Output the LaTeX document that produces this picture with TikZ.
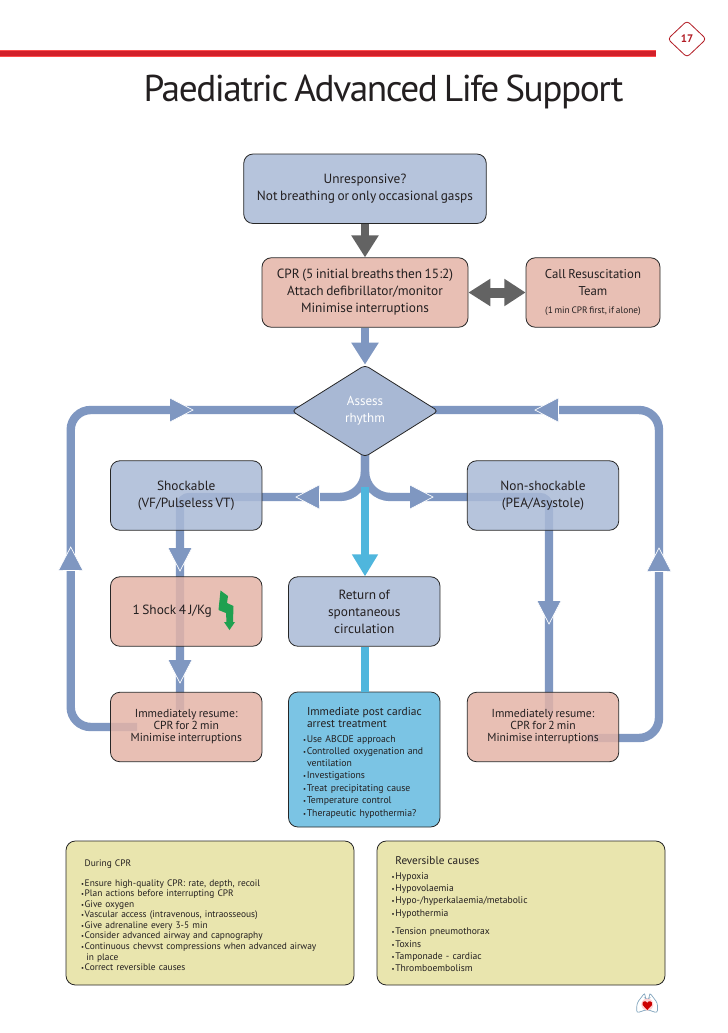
\documentclass[tikz,border=0pt]{standalone}
\usepackage{fontspec}
\setmainfont{PT Sans}[WordSpace=0.7]
\usetikzlibrary{arrows.meta,shapes.geometric,backgrounds,calc}
\definecolor{bluefill}{HTML}{AABAD7}
\definecolor{pinkfill}{HTML}{E4B4A8}
\definecolor{yellowfill}{HTML}{E9E5AE}
\definecolor{postfill}{HTML}{7BC4E4}
\definecolor{diamondfill}{HTML}{A8B8D4}
\definecolor{flowcol}{HTML}{7F97C1}
\definecolor{cyancol}{HTML}{4FB6DD}
\definecolor{greycol}{HTML}{636363}
\definecolor{redcol}{HTML}{D2202A}
\definecolor{inkcol}{HTML}{231F20}
\definecolor{boltcol}{HTML}{1FA050}
\definecolor{lungcol}{HTML}{7FA3BC}
\newcommand{\blt}{\makebox[2.8pt][l]{\fontsize{5pt}{5pt}\selectfont •}}
\newcommand{\fsz}[2]{\fontsize{#1pt}{#2pt}\selectfont}
\tikzset{
  x=0.75pt,y=-0.75pt,
  boxbase/.style={draw=black!85,line width=.6pt,rounded corners=7pt,inner sep=0pt,align=center,text=inkcol,
    fill opacity=.85,text opacity=1,minimum width=113.6pt,minimum height=52.1pt,font=\fsz{10}{12.7}},
  bluebox/.style={boxbase,fill=bluefill},
  pinkbox/.style={boxbase,fill=pinkfill},
  flowline/.style={draw=flowcol,line width=6.3pt},
  flowarrow/.style={draw=flowcol,line width=6pt,-{Triangle[length=16.5pt,width=19.5pt]}},
  cyanline/.style={draw=cyancol,line width=6pt},
  cyanarrow/.style={draw=cyancol,line width=6pt,-{Triangle[length=16.5pt,width=18.5pt]}},
  greyarrow/.style={draw=greycol,line width=6pt,-{Triangle[length=16.5pt,width=19.5pt]}},
  greydouble/.style={draw=greycol,line width=7.5pt,{Triangle[length=16.5pt,width=19.5pt]}-{Triangle[length=16pt,width=19.5pt]}},
  tri/.pic={\fill[flowcol] (-23,-12)--(0,0)--(-23,12)--cycle;
            \draw[white,line width=.5pt] (-23,-12)--(0,0)--(-23,12);},
  trigap/.pic={\fill[flowcol] (-23,-12)--(0,0)--(-23,12)--cycle;
            \draw[white,line width=.5pt] (-23,-12)--(0,0)--(-23,12);
            \draw[white,line width=1.2pt] (-23.6,-8)--(-23.6,8);},
}
\begin{document}
\begin{tikzpicture}
\useasboundingbox (0,0) rectangle (728,1033);
% header
\draw[red!70!white,line width=5pt] (0,53.5) -- (656,53.5);
\draw[redcol,line width=4pt] (0,53.5) -- (656,53.5);
\node[diamond,draw=redcol!85!black,line width=.6pt,rounded corners=2.5pt,minimum width=29pt,minimum height=27.5pt,inner sep=0pt,
  text=redcol!85!black,font=\fsz{8.2}{10}\bfseries] (page) at (687,39) {17};
\node[text=inkcol,font=\fsz{28}{30}\addfontfeature{LetterSpace=-3.9},inner sep=0pt] (title) at (383.5,92) {Paediatric Advanced Life Support};
% boxes
\node[bluebox,minimum width=181.9pt] (unresp) at (365,188.75) {Unresponsive?\\Not breathing or only occasional gasps};
\node[pinkbox,minimum width=154.5pt] (cpr) at (365,292.5) {CPR (5 initial breaths then 15:2)\\Attach defibrillator/monitor\\Minimise interruptions};
\node[pinkbox,minimum width=100.5pt,font=\fsz{9.6}{12.5}] (call) at (593,292.5) {Call Resuscitation\\Team\\[1pt]{\fsz{7}{8}(1 min CPR first, if alone)}};
\node[diamond,fill=diamondfill,draw=black!85,line width=.6pt,rounded corners=3pt,minimum width=110pt,minimum height=69pt,inner sep=0pt,
  align=center,text=white,font=\fsz{9.8}{12.6}] (assess) at (365,411) {Assess\\rhythm};
\node[bluebox] (shock) at (186.25,495.5) {Shockable\\(VF/Pulseless VT)};
\node[pinkbox] (oneshock) at (186.25,611.5) {1 Shock 4 J/Kg\hspace*{21pt}};
\node[pinkbox,font=\fsz{8.7}{9}] (resumel) at (186.25,727) {Immediately resume:\\CPR for 2 min\\Minimise interruptions};
\node[bluebox] (rosc) at (364.25,611.5) {Return of\\spontaneous\\circulation};
\node[boxbase,fill=postfill,fill opacity=1,minimum height=101.25pt,align=left,text width=91.8pt,font=\fsz{7.3}{9}] (post) at (364.25,759.5)
  {\rule{0pt}{11pt}\hspace*{3pt}{\fsz{8.6}{9}Immediate post cardiac\\\hspace*{3pt}arrest treatment}\\[2pt]
   \blt Use ABCDE approach\\[.6pt]
   \blt Controlled oxygenation and\\
   \hspace*{3pt}ventilation\\
   \blt Investigations\\[.6pt]
   \blt Treat precipitating cause\\
   \blt Temperature control\\[.5pt]
   \blt Therapeutic hypothermia?};
\node[bluebox] (nonshock) at (543,495.5) {Non-shockable\\(PEA/Asystole)};
\node[pinkbox,font=\fsz{8.7}{9}] (resumer) at (543,727) {Immediately resume:\\CPR for 2 min\\Minimise interruptions};
\node[boxbase,fill=yellowfill,fill opacity=1,minimum width=216pt,minimum height=108pt,align=left,text width=193.5pt,font=\fsz{7.05}{7.9}] (during) at (210,913)
  {\rule{0pt}{8.3pt}\hspace*{2.8pt}During CPR\\[7pt]
   \blt Ensure high-quality CPR: rate, depth, recoil\\
   \blt Plan actions before interrupting CPR\\
   \blt Give oxygen\\
   \blt Vascular access (intravenous, intraosseous)\\
   \blt Give adrenaline every 3-5 min\\
   \blt Consider advanced airway and capnography\\
   \blt Continuous chevvst compressions when advanced airway\\
   \hspace*{4pt}in place\\
   \blt Correct reversible causes};
\node[boxbase,fill=yellowfill,fill opacity=1,minimum width=216pt,minimum height=108pt,align=left,text width=194pt,font=\fsz{7.2}{9}] (causes) at (521,913)
  {\rule{0pt}{8.1pt}\hspace*{2.8pt}{\fsz{8.4}{9}Reversible causes}\\[2pt]
   \blt Hypoxia\\
   \blt Hypovolaemia\\
   \blt Hypo-/hyperkalaemia/metabolic\\[.8pt]
   \blt Hypothermia\\[4.5pt]
   \blt Tension pneumothorax\\[.8pt]
   \blt Toxins\\
   \blt Tamponade - cardiac\\
   \blt Thromboembolism};
% named way-points
\coordinate (fork) at (365,497);
\coordinate (leftin) at (137,727);
\coordinate (leftb) at (70.7,727);
\coordinate (leftt) at (70.7,410);
\coordinate (rightin) at (587,738);
\coordinate (rightb) at (659,738);
\coordinate (rightt) at (659,410);
\coordinate (shockturn) at (180,497);
\coordinate (shockend) at (180,710);
\coordinate (nonturn) at (549,497);
\coordinate (nonend) at (549,713);
\coordinate (cyanstart) at (365,487);
% connectors under the translucent boxes
\begin{pgfonlayer}{background}
\fill[white] (0,0) rectangle (728,1033);
\draw[flowline,rounded corners=15pt] (leftin) -- (leftb) -- (leftt) -- (leftt -| assess.center);
\draw[flowline,rounded corners=15pt] (rightin) -- (rightb) -- (rightt) -- (rightt -| assess.center);
\draw[flowline] (assess.center) [rounded corners=19pt] -- (fork) [rounded corners=7pt] -- (shockturn) [sharp corners] -- (shockend);
\draw[flowline] (assess.center) [rounded corners=19pt] -- (fork) [rounded corners=7pt] -- (nonturn) [sharp corners] -- (nonend);
\end{pgfonlayer}
\draw[greyarrow] (unresp.south) -- (cpr.north);
\draw[greydouble] (cpr.east) -- (call.west);
\draw[flowarrow] (cpr.south) -- (assess.north);
\draw[cyanarrow] (cyanstart) -- (rosc.north -| cyanstart);
\draw[cyanline] (rosc.south -| cyanstart) -- (post.north -| cyanstart);
% mid-line arrowheads
\pic at (193,410) {tri};
\pic[rotate=180] at (535,410) {trigap};
\pic[rotate=180] at (296,497) {trigap};
\pic at (433,497) {tri};
\pic[rotate=90] at (70.7,547) {trigap};
\pic[rotate=90] at (659,548) {trigap};
\pic[rotate=-90] at (180,571) {tri};
\pic[rotate=-90] at (180,683) {tri};
\pic[rotate=-90] at (549,624) {tri};
% lightning bolt
\fill[boltcol] (220.5,590.5) -- (228,596) -- (227,603) -- (233.5,606) -- (233,622) -- (235,622) -- (229.5,630) -- (224,622) -- (226.5,622) -- (226,613) -- (218.5,610) -- cycle;
% heart and lungs emblem
\draw[lungcol,line width=.5pt,rounded corners=2pt,fill=white] (645,992.5) -- (637,1003) -- (636.5,1013) -- (647,1009.5) -- (657.5,1013) -- (657.5,1003) -- (649.5,992.5) -- (649.5,998) -- (647.2,1000) -- (645,998) -- cycle;
\fill[pink!70!white] (647.3,1004.5) circle[radius=6];
\fill[red!80!black] (647.3,1010) -- (642.6,1005) .. controls (641.6,1001) and (646,1000) .. (647.3,1002.8) .. controls (648.6,1000) and (653,1001) .. (652,1005) -- cycle;
\end{tikzpicture}
\end{document}
